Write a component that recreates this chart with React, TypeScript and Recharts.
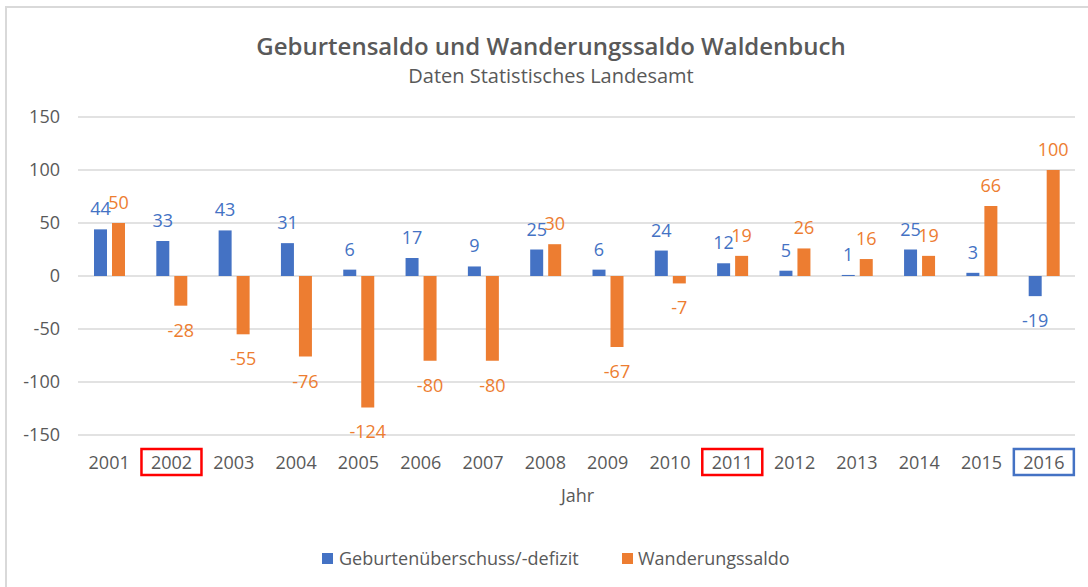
import React from 'react';
import { BarChart, Bar, XAxis, YAxis, CartesianGrid, LabelList } from 'recharts';

const years = ['2001', '2002', '2003', '2004', '2005', '2006', '2007', '2008', '2009', '2010', '2011', '2012', '2013', '2014', '2015', '2016'];
const geburten = [44, 33, 43, 31, 6, 17, 9, 25, 6, 24, 12, 5, 1, 25, 3, -19];
const wanderung = [50, -28, -55, -76, -124, -80, -80, 30, -67, -7, 19, 26, 16, 19, 66, 100];
const yTicks = [-150, -100, -50, 0, 50, 100, 150];
const redYears = ['2002', '2011'];
const blueYears = ['2016'];

const BLUE = '#4472C4';
const ORANGE = '#ED7D31';
const GREY = '#595959';
const FONT = '"Open Sans", sans-serif';

const data = years.map((y, i) => ({ year: y, geb: geburten[i], wan: wanderung[i] }));

const makeLabel = (color: string) => (props: any) => {
  const { x, y, width, height, value } = props;
  const top = Math.min(Number(y), Number(y) + Number(height));
  const bottom = Math.max(Number(y), Number(y) + Number(height));
  const cx = Number(x) + Number(width) / 2;
  const ty = value >= 0 ? top - 21 : bottom + 24;
  return (
    <text x={cx} y={ty} fill={color} fontSize={18} fontFamily={FONT} textAnchor="middle" dominantBaseline="central">
      {value}
    </text>
  );
};

const XTick = (props: any) => {
  const { x, y, payload } = props;
  const v = String(payload.value);
  const cy = Number(y) + 27;
  let box: React.ReactNode = null;
  if (redYears.includes(v) || blueYears.includes(v)) {
    box = (
      <rect x={Number(x) - 30} y={cy - 13} width={60} height={26} fill="none" stroke={redYears.includes(v) ? '#FF0000' : BLUE} strokeWidth={2.5} />
    );
  }
  return (
    <g>
      {box}
      <text x={x} y={cy} fill={GREY} fontSize={18} fontFamily={FONT} textAnchor="middle" dominantBaseline="central">
        {v}
      </text>
    </g>
  );
};

export default function App() {
  return (
    <div style={{ position: 'absolute', left: 0, top: 0, width: 1088, height: 587, overflow: 'hidden', background: '#fff' }}>
      <div style={{ position: 'absolute', left: 5, top: 6, width: 1200, height: 700, borderLeft: '2px solid #d9d9d9', borderTop: '2px solid #d9d9d9' }} />
      <div style={{ position: 'absolute', left: 0, top: 0 }}>
        <BarChart width={1088} height={587} data={data} margin={{ top: 117, right: 13, bottom: 112, left: 0 }} barSize={13} barGap={5}>
          <CartesianGrid vertical={false} stroke="#d9d9d9" strokeWidth={1.5} />
          <YAxis
            width={78}
            domain={[-150, 150]}
            ticks={yTicks}
            axisLine={false}
            tickLine={false}
            tickSize={0}
            tickMargin={18}
            tick={{ fill: GREY, fontSize: 18, fontFamily: FONT }}
            interval={0}
          />
          <XAxis dataKey="year" axisLine={false} tickLine={false} tickSize={0} tickMargin={0} height={40} interval={0} tick={<XTick />} />
          <Bar dataKey="geb" fill={BLUE} isAnimationActive={false}>
            <LabelList dataKey="geb" content={makeLabel(BLUE)} />
          </Bar>
          <Bar dataKey="wan" fill={ORANGE} isAnimationActive={false}>
            <LabelList dataKey="wan" content={makeLabel(ORANGE)} />
          </Bar>
        </BarChart>
      </div>
      <div style={{ position: 'absolute', left: 0, width: 1102, top: 31, textAlign: 'center', fontFamily: FONT, fontWeight: 600, fontSize: 24, color: GREY, lineHeight: '30px' }}>
        Geburtensaldo und Wanderungssaldo Waldenbuch
      </div>
      <div style={{ position: 'absolute', left: 0, width: 1102, top: 63, textAlign: 'center', fontFamily: FONT, fontSize: 20, color: GREY, lineHeight: '26px' }}>
        Daten Statistisches Landesamt
      </div>
      <div style={{ position: 'absolute', left: 0, width: 1155, top: 483, textAlign: 'center', fontFamily: FONT, fontSize: 18, color: GREY, lineHeight: '24px' }}>
        Jahr
      </div>
      <div style={{ position: 'absolute', left: 322, top: 546, height: 24, display: 'flex', alignItems: 'center', fontFamily: FONT, fontSize: 18, color: GREY }}>
        <span style={{ display: 'inline-block', width: 11, height: 11, background: BLUE, marginRight: 6 }} />
        <span>Geburtenüberschuss/-defizit</span>
      </div>
      <div style={{ position: 'absolute', left: 622, top: 546, height: 24, display: 'flex', alignItems: 'center', fontFamily: FONT, fontSize: 18, color: GREY }}>
        <span style={{ display: 'inline-block', width: 11, height: 11, background: ORANGE, marginRight: 5 }} />
        <span>Wanderungssaldo</span>
      </div>
    </div>
  );
}
